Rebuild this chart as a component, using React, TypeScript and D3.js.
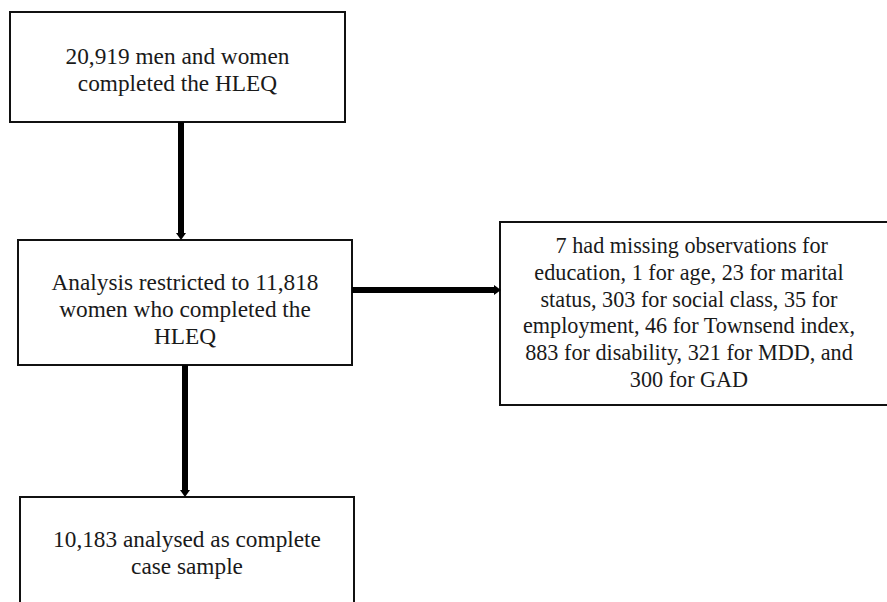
import React from "react";
import { line as d3line } from "d3";

// ---- data: box texts ----
const topBoxLines = ["20,919 men and women", "completed the HLEQ"];
const restrictedLines = ["Analysis restricted to 11,818", "women who completed the", "HLEQ"];
const missingLines = [
  "\u00a07 had missing observations for",
  "education, 1 for age, 23 for marital",
  "status, 303 for social class, 35 for",
  "employment, 46 for Townsend index,",
  "883 for disability, 321 for MDD, and",
  "300 for GAD",
];
const finalLines = ["10,183 analysed as complete", "case sample"];

const W = 887;
const H = 602;

// layout (pixel coordinates)
const boxes = [
  { id: "top", x0: 10, x1: 345, y0: 12, y1: 122, lines: topBoxLines, firstBaseline: 64, fs: 23.3, cx: 177.5 },
  { id: "restricted", x0: 18, x1: 352, y0: 240, y1: 365, lines: restrictedLines, firstBaseline: 290, fs: 23.3, cx: 185 },
  { id: "missing", x0: 500, x1: 900, y0: 222, y1: 405, lines: missingLines, firstBaseline: 253, fs: 22.2, cx: 689 },
  { id: "final", x0: 20, x1: 354, y0: 497, y1: 640, lines: finalLines, firstBaseline: 547, fs: 23.3, cx: 187 },
];

const arrows = [
  { x1: 181, y1: 122, x2: 181, y2: 240 },
  { x1: 185, y1: 365, x2: 185, y2: 497 },
  { x1: 352, y1: 290, x2: 501, y2: 290 },
];

const LINE_H = 26.8;

export default function App() {
  const line = d3line<[number, number]>();
  return (
    <svg width={W} height={H} style={{ position: "absolute", left: 0, top: 0 }}>
      <rect x={0} y={0} width={W} height={H} fill="#fff" />
      {boxes.map((b) => (
        <g key={b.id}>
          <rect x={b.x0} y={b.y0} width={b.x1 - b.x0} height={b.y1 - b.y0} fill="#fff" stroke="#111" strokeWidth={2} />
          {b.lines.map((t, i) => (
            <text
              key={i}
              x={b.cx}
              y={b.firstBaseline + i * LINE_H}
              textAnchor="middle"
              fontSize={b.fs}
              fill="#1a1a1a"
              style={{ fontFamily: "Liberation Serif" }}
            >
              {t}
            </text>
          ))}
        </g>
      ))}
      {arrows.map((a, i) => {
        const dx = a.x2 - a.x1;
        const dy = a.y2 - a.y1;
        const len = Math.hypot(dx, dy);
        const ux = dx / len;
        const uy = dy / len;
        const headLen = 7;
        const ex = a.x2 - ux * headLen;
        const ey = a.y2 - uy * headLen;
        const px = -uy;
        const py = ux;
        const hw = 5;
        return (
          <g key={i}>
            <path d={line([[a.x1, a.y1], [ex + ux, ey + uy]]) ?? ""} stroke="#000" strokeWidth={6} fill="none" />
            <path d={(line([[a.x2, a.y2], [ex + px * hw, ey + py * hw], [ex - px * hw, ey - py * hw]]) ?? "") + "Z"} fill="#000" />
          </g>
        );
      })}
    </svg>
  );
}
